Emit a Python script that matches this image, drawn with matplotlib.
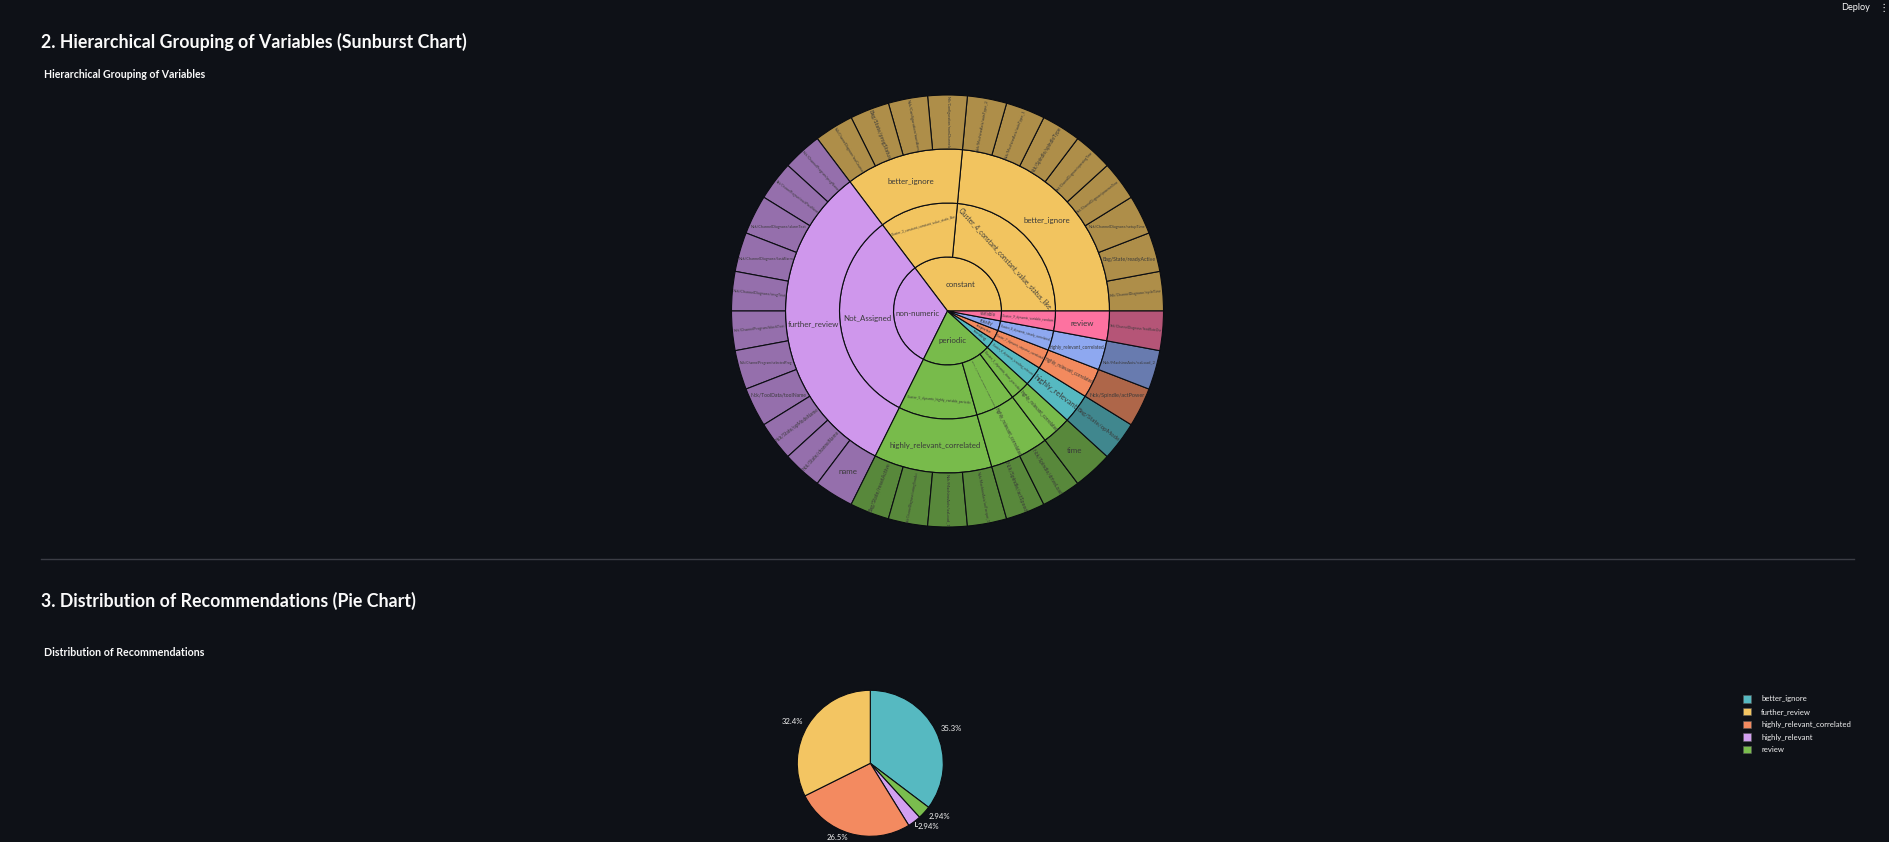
import numpy as np
import matplotlib
matplotlib.use("Agg")
import matplotlib.pyplot as plt
from matplotlib.textpath import TextPath
from matplotlib.font_manager import FontProperties
from matplotlib.colors import to_rgb

# ---------------- data ----------------
leaf_names = [
    # constant / Cluster_4
    "Nck/ChannelDiagnose/cycleTime", "Bag/State/readyActive", "Nck/ChannelDiagnose/setupTime",
    "Nck/ChannelDiagnose/poweronTime", "Nck/ChannelDiagnose/operatingTime", "Nck/Spindle/spindleType",
    "Nck/MachineAxis/axisType_1", "Nck/MachineAxis/axisType_2",
    # constant / Cluster_3
    "Nck/Configuration/numChannels", "Nck/Configuration/numAxes", "Bag/State/progStatus",
    "Nck/ChannelDiagnose/toolCounter",
    # non-numeric / Not_Assigned
    "Nck/ChannelProgram/progName", "Nck/ChannelProgram/workPieceName", "Nck/ChannelDiagnose/alarmText",
    "Nck/ChannelDiagnose/lastAlarm", "Nck/ChannelDiagnose/msgText", "Nck/ChannelProgram/blockText",
    "Nck/ChannelProgram/selectedProg", "Nck/ToolData/toolName", "Nck/State/opModeName",
    "Nck/State/channelName", "name",
    # periodic
    "Bag/State/resetActive", "Nck/ChannelDiagnose/cuttingTimeAct", "Nck/MachineAxis/aaLoad_1",
    "Nck/MachineAxis/aaTorque_1", "Nck/Spindle/actSpeed", "Nck/Spindle/driveLoad", "time",
    # single-variable groups
    "Bag/State/opMode", "Nck/Spindle/actPower", "Nck/MachineAxis/vaLoad_2",
    "Nck/ChannelDiagnose/feedRateOvr",
]
leaf_types = (["constant"] * 12 + ["non-numeric"] * 11 + ["periodic"] * 7
              + ["trending", "stepwise", "steady", "variable"])
leaf_clusters = (["Cluster_4_constant_constant_value_status_like"] * 8
                 + ["Cluster_3_constant_constant_value_static_like"] * 4
                 + ["Not_Assigned"] * 11
                 + ["Cluster_5_dynamic_highly_variable_periodic"] * 4
                 + ["Cluster_2_dynamic_moderately_variable_periodic"] * 2
                 + ["Cluster_1_dynamic_time_periodic"]
                 + ["Cluster_6_dynamic_trending_relevant", "Cluster_7_dynamic_stepwise_correlated",
                    "Cluster_8_dynamic_steady_correlated", "Cluster_9_dynamic_variable_random"])
leaf_recs = (["better_ignore"] * 12 + ["further_review"] * 11 + ["highly_relevant_correlated"] * 7
             + ["highly_relevant", "highly_relevant_correlated", "highly_relevant_correlated", "review"])
leaf_counts = [1, 1, 1, 1, 1, 1, 1, 1, 1, 1, 1, 1, 1, 1, 1, 1, 1,
               1, 1, 1, 1, 1, 1, 1, 1, 1, 1, 1, 1, 1, 1, 1, 1, 1]

type_colors = {"constant": "#F2C45F", "non-numeric": "#CF97EC", "periodic": "#78BB4B",
               "trending": "#56B9C1", "stepwise": "#F28A5E", "steady": "#8EA8F0",
               "variable": "#FD72A0"}

pie_labels = ["better_ignore", "review", "highly_relevant", "highly_relevant_correlated", "further_review"]
pie_values = [12, 1, 1, 9, 11]
legend_labels = ["better_ignore", "further_review", "highly_relevant_correlated", "highly_relevant", "review"]
rec_colors = {"better_ignore": "#56B9C1", "further_review": "#F3C562",
              "highly_relevant_correlated": "#F38A60", "highly_relevant": "#D2A0F0",
              "review": "#7ABD4E"}

title_sunburst = "2. Hierarchical Grouping of Variables (Sunburst Chart)"
subtitle_sunburst = "Hierarchical Grouping of Variables"
title_pie = "3. Distribution of Recommendations (Pie Chart)"
subtitle_pie = "Distribution of Recommendations"

# ---------------- style ----------------
BG = "#0e1117"
EDGE = "#0b0d12"
SB_TXT = "#3a3a3a"
W, H = 1890, 842
FAM = "Lato"

fig = plt.figure(figsize=(W / 100, H / 100), dpi=100, facecolor=BG)
ax = fig.add_axes([0, 0, 1, 1])
ax.set_facecolor(BG)


def Y(y):
    return H - y


_wcache = {}


def wpu(s, fp):
    key = (s, fp.get_family()[0], fp.get_weight())
    if key not in _wcache:
        _wcache[key] = TextPath((0, 0), s, size=1, prop=fp).get_extents().width
    return _wcache[key]


def pt(px):
    return px * 72.0 / 100.0


def blend(c, a):
    c = np.array(to_rgb(c)); b = np.array(to_rgb(BG))
    return tuple(a * c + (1 - a) * b)


# ---------------- sunburst ----------------
SB_C = (947.5, Y(311))
SB_R = 216.0
NLEV = 4
RING = SB_R / NLEV
SB_FP = FontProperties(family=FAM)
MAXPX = 46.0 / wpu("better_ignore", SB_FP)
HF = 0.9


def box_points(cx, cy, phi, w, h, n=9):
    u = np.array([np.cos(np.radians(phi)), np.sin(np.radians(phi))])
    v = np.array([-u[1], u[0]])
    pts = []
    for a in np.linspace(-0.5, 0.5, n):
        pts.append(a * w * u + 0.5 * h * v)
        pts.append(a * w * u - 0.5 * h * v)
    for b in np.linspace(-0.5, 0.5, 3):
        pts.append(0.5 * w * u + b * h * v)
        pts.append(-0.5 * w * u + b * h * v)
    return np.array(pts) + np.array([cx, cy])


def inside(pts, r0, r1, a0, span, pad=1.0):
    r = np.hypot(pts[:, 0], pts[:, 1])
    if np.any(r > r1 - pad):
        return False
    if r0 > 0 and np.any(r < r0 + pad):
        return False
    if span < 359.9:
        ang = (np.degrees(np.arctan2(pts[:, 1], pts[:, 0])) - a0) % 360
        padang = np.degrees(pad / np.maximum(r, 1e-6))
        if np.any(ang < padang) or np.any(ang > span - padang):
            return False
    return True


def fit(s, r0, r1, a0, span, mode, f):
    tm = a0 + span / 2
    if mode == "h":
        phi = 0.0
    elif mode == "r":
        phi = ((tm + 90) % 180) - 90
    else:
        phi = (tm % 180) - 90
    rc = r0 + f * (r1 - r0)
    cx, cy = rc * np.cos(np.radians(tm)), rc * np.sin(np.radians(tm))
    wu = wpu(s, SB_FP)

    def ok(fs):
        return inside(box_points(cx, cy, phi, fs * wu, fs * HF), r0, r1, a0, span)

    if ok(MAXPX):
        return MAXPX, phi, cx, cy
    lo, hi = 0.0, MAXPX
    for _ in range(14):
        mid = (lo + hi) / 2
        if ok(mid):
            lo = mid
        else:
            hi = mid
    return lo, phi, cx, cy


def place_label(s, r0, r1, a0, span):
    if r0 == 0:
        f_list = [0.55, 0.5, 0.6, 0.45, 0.65, 0.7, 0.75]
    else:
        f_list = [0.5, 0.45, 0.55, 0.4, 0.6, 0.35, 0.65]
    results = {}
    for mode in ["h", "r", "t"]:
        best = None
        for f in f_list:
            res = fit(s, r0, r1, a0, span, mode, f)
            if best is None or res[0] > best[0] + 1e-3:
                best = res
            if res[0] >= MAXPX:
                break
        results[mode] = best
    if results["h"][0] >= 0.85 * MAXPX:
        fs, phi, cx, cy = results["h"]
    else:
        fs, phi, cx, cy = max(results.values(), key=lambda r: r[0])
    if fs < 0.8:
        return
    ax.text(SB_C[0] + cx, SB_C[1] + cy, s, rotation=phi, rotation_mode="anchor",
            ha="center", va="center", fontsize=pt(fs), family=FAM, color=SB_TXT, zorder=5)


levels = [
    [(t,) for t in leaf_types],
    list(zip(leaf_types, leaf_clusters)),
    list(zip(leaf_types, leaf_clusters, leaf_recs)),
    list(zip(leaf_types, leaf_clusters, leaf_recs, leaf_names)),
]
total = float(sum(leaf_counts))
for li, keys in enumerate(levels):
    groups = []
    cum = 0
    for k, v in zip(keys, leaf_counts):
        if groups and groups[-1][0] == k:
            groups[-1][2] += v
        else:
            groups.append([k, cum, v])
        cum += v
    vals = [g[2] for g in groups]
    cols = [type_colors[g[0][0]] for g in groups]
    if li == NLEV - 1:
        cols = [blend(c, 0.7) for c in cols]
    r1 = RING * (li + 1)
    ax.pie(vals, colors=cols, radius=r1, center=SB_C, startangle=0, counterclock=True,
           wedgeprops=dict(width=RING, edgecolor=EDGE, linewidth=0.8), frame=True)
    for g in groups:
        a0 = 360.0 * g[1] / total
        span = 360.0 * g[2] / total
        place_label(g[0][-1], r1 - RING, r1, a0, span)

# ---------------- pie ----------------
PIE_C = (870.3, Y(763.3))
PIE_R = 73.0
wedges, _ = ax.pie(pie_values, colors=[rec_colors[l] for l in pie_labels], radius=PIE_R,
                   center=PIE_C, startangle=90, counterclock=False,
                   wedgeprops=dict(edgecolor=EDGE, linewidth=0.8), frame=True)
ptot = float(sum(pie_values))
PIE_FP = FontProperties(family=FAM)
pie_px = 21.0 / wpu("35.3%", PIE_FP)
prev = None
for wdg, v in zip(wedges, pie_values):
    tm = np.radians((wdg.theta1 + wdg.theta2) / 2)
    c, s_ = np.cos(tm), np.sin(tm)
    lx, ly = PIE_C[0] + (PIE_R + 6) * c, PIE_C[1] + (PIE_R + 6) * s_
    ha = "left" if c > 0.1 else ("right" if c < -0.1 else "center")
    va = "bottom" if s_ > 0.8 else ("top" if s_ < -0.8 else "center")
    if va == "top" and ly - 1.2 * pie_px < 0:
        ly, va = 0.5, "bottom"
    txt = f"{100 * v / ptot:.3g}%"
    ax.text(lx, ly, txt, ha=ha, va=va, fontsize=pt(pie_px), family=FAM, color="#f0f0f0", zorder=6)
    if prev is not None and abs(prev[1] - ly) < 11 and (prev[0] > PIE_C[0]) == (lx > PIE_C[0]):
        ex, ey = PIE_C[0] + (PIE_R + 1) * c, PIE_C[1] + (PIE_R + 1) * s_
        ax.plot([ex, ex, lx - 1], [ey, ly, ly], color="#d0d0d0", lw=0.7, zorder=6)
    prev = (lx, ly)

# legend
LEG_FP = FontProperties(family=FAM)
leg_fs = pt(89.0 / wpu("highly_relevant_correlated", LEG_FP))
for i, lab in enumerate(legend_labels):
    yy = Y(699 + i * 12.7)
    ax.add_patch(plt.Rectangle((1743, yy - 3.6), 7.6, 7.2, facecolor=rec_colors[lab],
                               edgecolor="#5a5a5a", lw=0.4, zorder=6))
    ax.text(1761, yy, lab, ha="left", va="center", fontsize=leg_fs, family=FAM,
            color="#f0f0f0", zorder=6)

# ---------------- page text ----------------
HFP = FontProperties(family=FAM, weight="bold")
ax.text(41, Y(42), title_sunburst, ha="left", va="center", color="#fafafa", family=FAM,
        weight="bold", fontsize=pt(423 / wpu(title_sunburst, HFP)))
ax.text(44, Y(75), subtitle_sunburst, ha="left", va="center", color="#fafafa", family=FAM,
        weight="bold", fontsize=pt(160 / wpu(subtitle_sunburst, HFP)))
ax.plot([41, 1854], [Y(559), Y(559)], color="#3b3d45", lw=1.0)
ax.text(41, Y(601), title_pie, ha="left", va="center", color="#fafafa", family=FAM,
        weight="bold", fontsize=pt(372 / wpu(title_pie, HFP)))
ax.text(44, Y(653), subtitle_pie, ha="left", va="center", color="#fafafa", family=FAM,
        weight="bold", fontsize=pt(158 / wpu(subtitle_pie, HFP)))
ax.text(1856, Y(8), "Deploy", ha="center", va="center", color="#fafafa", family=FAM,
        fontsize=pt(28 / wpu("Deploy", SB_FP)))
ax.text(1884, Y(8), "\u22ee", ha="center", va="center", color="#fafafa", family="DejaVu Sans",
        fontsize=7.5)

ax.set_xlim(0, W)
ax.set_ylim(0, H)
ax.axis("off")
fig.savefig("out.png", dpi=100, facecolor=BG)
